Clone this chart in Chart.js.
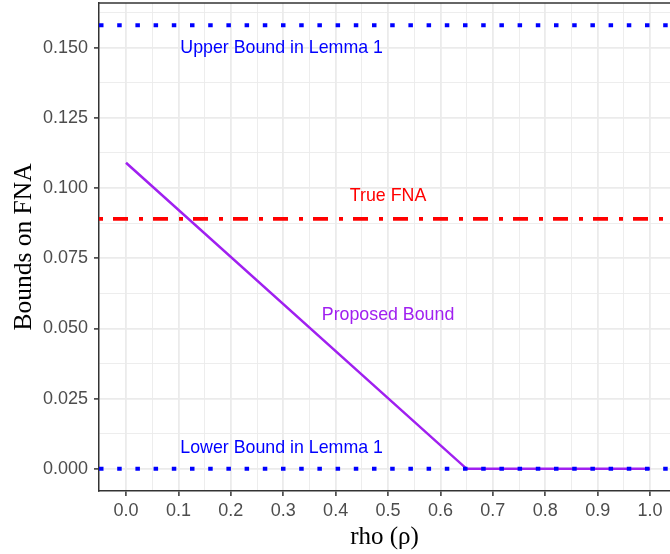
<!DOCTYPE html>
<html>
<head>
<meta charset="utf-8">
<script src="https://cdn.jsdelivr.net/npm/chart.js@4"></script>
<style>
  html, body { margin: 0; padding: 0; background: #fff; }
  #wrap { width: 670px; height: 554px; }
</style>
</head>
<body>
<div id="wrap"><canvas id="boundschart"></canvas></div>
<script>
// values
var rhoValues = [0.0, 0.65, 1.0];
var proposedBound = [0.109, 0.0, 0.0];
var upperBound = 0.158;
var lowerBound = 0.0;
var trueFNA = 0.089;

var xTicks = [0.0, 0.1, 0.2, 0.3, 0.4, 0.5, 0.6, 0.7, 0.8, 0.9, 1.0];
var yTicks = [0.000, 0.025, 0.050, 0.075, 0.100, 0.125, 0.150];
var xRange = [-0.0515, 1.038];
var yRange = [-0.0079, 0.1659];

var noteTexts = ['Upper Bound in Lemma 1', 'True FNA', 'Proposed Bound', 'Lower Bound in Lemma 1'];
var noteX = [0.297, 0.5, 0.5, 0.297];
var noteY = [0.150, 0.097, 0.0546, 0.0075];
var noteColors = ['#0000FF', '#FF0000', '#A020F0', '#0000FF'];

// majors plus a minor tick half way to the next one
function withMinors(majors, max) {
  var step = majors[1] - majors[0];
  var out = [];
  majors.forEach(function(m) {
    out.push({ value: m, minor: false });
    if (m + step / 2 <= max) out.push({ value: m + step / 2, minor: true });
  });
  return out;
}

function hline(y) {
  return [{ x: xRange[0], y: y }, { x: xRange[1], y: y }];
}

function noPad(s) {
  s.paddingTop = 0; s.paddingBottom = 0; s.paddingLeft = 0; s.paddingRight = 0;
}

var gridOpts = {
  color: '#EBEBEB',
  lineWidth: function(c) { return c.tick && c.tick.minor ? 0.9 : 1.8; },
  tickColor: function(c) { return c.tick && c.tick.minor ? 'rgba(0,0,0,0)' : '#333333'; },
  tickWidth: 1.5,
  tickLength: 5,
  drawTicks: true
};

var frameAndNotes = {
  id: 'frameAndNotes',
  afterDatasetsDraw: function(chart) {
    var c = chart.ctx, xs = chart.scales.x, ys = chart.scales.y;
    c.save();
    c.font = '17.8px "Liberation Sans", Arial, sans-serif';
    c.textAlign = 'center';
    c.textBaseline = 'middle';
    for (var i = 0; i < noteTexts.length; i++) {
      c.fillStyle = noteColors[i];
      c.fillText(noteTexts[i], xs.getPixelForValue(noteX[i]), ys.getPixelForValue(noteY[i]));
    }
    c.restore();
  },
  afterDraw: function(chart) {
    var c = chart.ctx, a = chart.chartArea;
    c.save();
    c.strokeStyle = '#333333';
    c.lineWidth = 1.5;
    c.beginPath();
    c.moveTo(a.left, a.top);
    c.lineTo(a.right, a.top);
    c.stroke();
    c.restore();
  }
};

var ctx = document.getElementById('boundschart').getContext('2d');
var boundschart = new Chart(ctx, {
  type: 'line',
  data: {
    datasets: [{
      label: 'Upper Bound in Lemma 1',
      data: hline(upperBound),
      borderColor: '#0000FF',
      borderWidth: 4,
      borderDash: [4.5, 13.7],
      pointRadius: 0,
      order: 0
    }, {
      label: 'Lower Bound in Lemma 1',
      data: hline(lowerBound),
      borderColor: '#0000FF',
      borderWidth: 4,
      borderDash: [4.5, 13.7],
      pointRadius: 0,
      order: 0
    }, {
      label: 'True FNA',
      data: hline(trueFNA),
      borderColor: '#FF0000',
      borderWidth: 3.8,
      borderDash: [4, 10, 15, 11],
      pointRadius: 0,
      order: 0
    }, {
      label: 'Proposed Bound',
      data: rhoValues.map(function(r, i) { return { x: r, y: proposedBound[i] }; }),
      borderColor: '#A020F0',
      borderWidth: 2.5,
      pointRadius: 0,
      tension: 0,
      order: 1
    }]
  },
  options: {
    responsive: true,
    maintainAspectRatio: false,
    animation: false,
    layout: { padding: { top: 3, right: 0, bottom: 0, left: 0 } },
    plugins: { legend: { display: false }, tooltip: { enabled: false } },
    scales: {
      x: {
        type: 'linear',
        min: xRange[0],
        max: xRange[1],
        afterBuildTicks: function(s) { s.ticks = withMinors(xTicks, xRange[1]); },
        afterFit: function(s) { s.height = 63; noPad(s); },
        grid: gridOpts,
        border: { color: '#333333', width: 1.5 },
        ticks: {
          autoSkip: false,
          maxRotation: 0,
          padding: 4,
          color: '#4D4D4D',
          font: { family: '"Liberation Sans", Arial, sans-serif', size: 18 },
          callback: function(v, i, t) { return t[i].minor ? '' : v.toFixed(1); }
        },
        title: {
          display: true,
          text: 'rho (\u03C1)',
          color: '#000000',
          font: { family: '"Liberation Serif", "Times New Roman", serif', size: 25 },
          padding: { top: 0, bottom: 2 }
        }
      },
      y: {
        type: 'linear',
        min: yRange[0],
        max: yRange[1],
        afterBuildTicks: function(s) { s.ticks = withMinors(yTicks, yRange[1]); },
        afterFit: function(s) { s.width = 99; noPad(s); },
        grid: gridOpts,
        border: { color: '#333333', width: 1.5 },
        ticks: {
          autoSkip: false,
          padding: 6,
          color: '#4D4D4D',
          font: { family: '"Liberation Sans", Arial, sans-serif', size: 18 },
          callback: function(v, i, t) { return t[i].minor ? '' : v.toFixed(3); }
        },
        title: {
          display: true,
          text: 'Bounds on FNA',
          color: '#000000',
          font: { family: '"Liberation Serif", "Times New Roman", serif', size: 25.5 },
          padding: { top: 9, bottom: 0 }
        }
      }
    }
  },
  plugins: [frameAndNotes]
});
</script>
</body>
</html>
